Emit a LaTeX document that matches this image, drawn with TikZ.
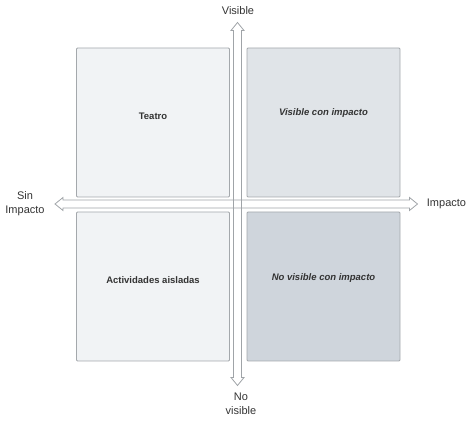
\documentclass[tikz,border=0pt]{standalone}
\usepackage{fontspec}
\setmainfont{Liberation Sans}
\usetikzlibrary{calc}
\definecolor{edge}{HTML}{A4A8AC}
\definecolor{axis}{HTML}{A0A4A8}
\definecolor{light}{HTML}{F1F3F5}
\definecolor{mid}{HTML}{E0E4E8}
\definecolor{dark}{HTML}{CFD5DC}
\definecolor{ink}{HTML}{333333}
\tikzset{
  quad/.style={draw=edge, line width=0.9pt, rounded corners=1pt, inner sep=0pt,
    minimum width=153pt, minimum height=149pt},
  qtext/.style={text=ink, font=\fontsize{9.5}{11}\selectfont\bfseries},
  qitext/.style={qtext, font=\fontsize{9.5}{11}\selectfont\bfseries\itshape},
  axisline/.style={draw=axis, fill=white, line width=0.8pt, line join=miter},
  lbl/.style={text=ink, font=\fontsize{11}{14}\selectfont, align=center, inner sep=0pt}
}
\begin{document}
\begin{tikzpicture}[x=1pt, y=-1pt]
  \useasboundingbox (0,0) rectangle (472,422);

  % quadrants
  \node[quad, fill=light] (tl) at (153,122.5) {};
  \node[quad, fill=mid]   (tr) at (323.5,122.5) {};
  \node[quad, fill=light] (bl) at (153,286.5) {};
  \node[quad, fill=dark]  (br) at (323.5,286.5) {};

  % axes
  \coordinate (top) at (237.5,22.5);
  \coordinate (bottom) at (237.5,385.5);
  \coordinate (left) at (55,204);
  \coordinate (right) at (417.5,204);
  \def\sw{4}
  \def\hw{6.5}
  \def\hl{8}

  \draw[axisline] (top) -- ++(\hw,\hl) -- ++(-\hw+\sw,0) |- ($(bottom)+(\sw,-\hl)$)
    -- ++(\hw-\sw,0) -- (bottom) -- ++(-\hw,-\hl) -- ++(\hw-\sw,0)
    |- ($(top)+(-\sw,\hl)$) -- ++(-\hw+\sw,0) -- cycle;
  \draw[axisline] (left) -- ++(\hl,-\hw) -- ++(0,\hw-\sw) -| ($(right)+(-\hl,-\sw)$)
    -- ++(0,-\hw+\sw) -- (right) -- ++(-\hl,\hw) -- ++(0,-\hw+\sw)
    -| ($(left)+(\hl,\sw)$) -- ++(0,\hw-\sw) -- cycle;
  \draw[draw=axis, line width=0.8pt] ($(top)+(-\sw,\hl)$) -- ($(bottom)+(-\sw,-\hl)$)
    ($(top)+(\sw,\hl)$) -- ($(bottom)+(\sw,-\hl)$);

  % texts
  \node[qtext]  (teatro)  at ($(tl.center)+(0,-6.5)$) {Teatro};
  \node[qitext] (visimp)  at ($(tr.center)+(0,-9.5)$) {Visible con impacto};
  \node[qtext]  (aisl)    at ($(bl.center)+(0,-6.5)$) {Actividades aisladas};
  \node[qitext] (novisimp) at ($(br.center)+(0,-8.5)$) {No visible con impacto};

  \node[lbl] (vis)   at (238,10.5) {Visible};
  \node[lbl] (sin)   at (25,204) {Sin\\Impacto};
  \node[lbl] (imp)   at (446.5,204) {Impacto};
  \node[lbl] (novis) at (241,404) {No\\visible};
\end{tikzpicture}
\end{document}
